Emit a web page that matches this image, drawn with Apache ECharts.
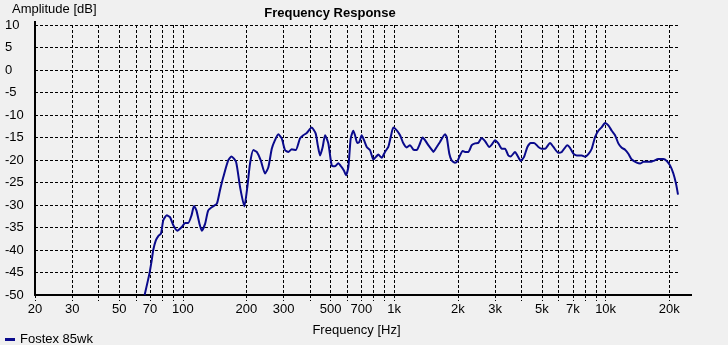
<!DOCTYPE html>
<html>
<head>
<meta charset="utf-8">
<script src="https://cdn.jsdelivr.net/npm/echarts@6.0.0/dist/echarts.min.js"></script>
<style>
  html, body { margin: 0; padding: 0; background: #f0f0f0; }
  #chart { width: 728px; height: 345px; }
</style>
</head>
<body>
<div id="chart"></div>
<script>
// Measured response of the Fostex 85wk driver (frequency in Hz, level in dB)
const freqHz = [66, 69.5, 71.3, 72.5, 74.5, 76.6, 78.9, 80.9, 84, 87, 90.2, 94.2, 98.9, 102.5, 106, 110, 113, 116, 120, 123, 127.5, 132, 139, 145, 150, 155.5, 164, 170, 178.6, 186.6, 195.5, 202, 208, 215.6, 223.8, 233.8, 245, 254, 263.6, 273, 283, 293.8, 304.6, 315.8, 327.6, 342, 358.6, 371.6, 385.8, 407, 425, 435, 446, 459, 471, 488, 506.6, 525, 544, 564.6, 579, 591.7, 607, 622.8, 640.8, 652.8, 669, 684, 702, 720, 741.6, 768.6, 797, 820, 841, 873, 905, 938, 963, 990.6, 1028, 1066, 1105, 1146, 1188, 1232, 1278, 1315, 1364, 1399, 1450, 1505, 1532, 1589, 1647, 1740, 1772, 1823, 1871, 1940, 1989, 2033, 2109, 2164, 2242, 2328, 2413, 2500, 2595, 2690, 2818, 2894, 3000, 3110, 3228, 3344, 3467, 3558, 3730, 3825, 3970, 4114, 4266, 4426, 4588, 4808, 4990, 5172, 5462, 5662, 5978, 6204, 6592, 6788, 7038, 7302, 7712, 7994, 8286, 8598, 8914, 9238, 9588, 9940, 10304, 10692, 11084, 11488, 11922, 12360, 12812, 13296, 14040, 14556, 15088, 15658, 16230, 16824, 17758, 18756, 19464, 20176, 20914, 21540, 22000];
const levelDb = [-50, -45.3, -42.3, -40.0, -37.9, -36.9, -36.3, -33.4, -32.3, -32.7, -34.5, -35.7, -34.9, -34.0, -34.0, -32.3, -30.2, -31.2, -34.2, -35.7, -34.2, -31.2, -30.3, -29.7, -26.7, -23.8, -20.1, -19.2, -20.4, -26.0, -30.3, -26.0, -20.8, -17.8, -18.2, -20.1, -23.0, -21.6, -17.5, -15.6, -14.3, -15.2, -17.8, -18.2, -17.6, -17.8, -15.2, -14.5, -14.0, -12.8, -14.1, -16.7, -19.0, -17.1, -14.5, -16.3, -21.2, -21.4, -20.7, -21.6, -22.4, -23.4, -21.6, -15.2, -13.5, -14.5, -16.2, -16.0, -14.5, -15.6, -17.1, -17.8, -19.9, -19.3, -18.8, -19.5, -18.2, -17.1, -14.9, -12.8, -13.4, -14.5, -16.3, -17.2, -16.7, -17.7, -17.8, -16.7, -15.0, -15.6, -16.7, -17.7, -18.2, -17.1, -16.0, -14.3, -14.9, -18.6, -20.1, -20.6, -20.3, -19.3, -18.0, -18.2, -18.2, -16.7, -16.3, -16.2, -15.1, -15.8, -17.1, -16.6, -15.6, -16.3, -17.5, -17.5, -19.0, -19.2, -18.2, -19.0, -20.2, -19.3, -17.1, -16.2, -16.2, -17.1, -17.5, -17.5, -16.2, -17.1, -18.4, -18.2, -16.7, -17.3, -18.6, -19.0, -19.0, -19.3, -18.7, -17.5, -14.9, -13.5, -12.7, -11.8, -12.3, -13.5, -14.5, -16.3, -17.3, -17.7, -18.6, -19.9, -20.6, -20.8, -20.4, -20.4, -20.4, -20.2, -19.8, -19.8, -20.2, -21.2, -23.0, -25.3, -27.7];

// Frequency axis: grid lines on every 1-2-3..9 step, labels on a subset
const gridFreqs = [20, 30, 40, 50, 60, 70, 80, 90, 100, 200, 300, 400, 500, 600, 700, 800, 900,
  1000, 2000, 3000, 4000, 5000, 6000, 7000, 8000, 9000, 10000, 20000];
const labelFreqs = [20, 30, 50, 70, 100, 200, 300, 500, 700, 1000, 2000, 3000, 5000, 7000, 10000, 20000];
const freqMin = 20;
const freqMax = 22000;
const seriesName = 'Fostex 85wk';

const FONT = 'Liberation Sans';
const dash = [3, 2];
const log10 = Math.log10;

function freqLabel(v) {
  const f = Math.round(Math.pow(10, v));
  return f >= 1000 ? (f / 1000) + 'k' : String(f);
}

const chart = echarts.init(document.getElementById('chart'), null, { renderer: 'canvas' });

chart.setOption({
  backgroundColor: '#f0f0f0',
  animation: false,
  textStyle: { fontFamily: FONT },
  title: {
    text: 'Frequency Response',
    left: 325,
    top: 2,
    textAlign: 'center',
    textStyle: { fontFamily: FONT, fontSize: 13, fontWeight: 'bold', color: '#000' }
  },
  legend: {
    data: [seriesName],
    left: 0,
    top: 333,
    padding: [0, 5],
    icon: 'rect',
    itemWidth: 10,
    itemHeight: 3,
    textStyle: { fontFamily: FONT, fontSize: 13, color: '#000' }
  },
  grid: { left: 35, right: 50, top: 25, bottom: 50 },
  xAxis: {
    type: 'value',
    min: log10(freqMin),
    max: log10(freqMax),
    name: 'Frequency [Hz]',
    nameLocation: 'middle',
    nameGap: 29,
    nameTextStyle: { fontFamily: FONT, fontSize: 13, color: '#000' },
    axisLine: { show: true, onZero: false, lineStyle: { color: '#000', width: 2 } },
    axisTick: {
      show: true,
      length: 6,
      customValues: gridFreqs.map(log10),
      lineStyle: { color: '#000', width: 1, type: dash }
    },
    axisLabel: {
      customValues: labelFreqs.map(log10),
      formatter: freqLabel,
      margin: 8,
      fontFamily: FONT,
      fontSize: 13,
      color: '#000'
    },
    splitLine: { show: true, lineStyle: { color: '#000', width: 1, type: dash } }
  },
  yAxis: {
    type: 'value',
    min: -50,
    max: 10,
    interval: 5,
    axisLine: { show: true, onZero: false, lineStyle: { color: '#000', width: 2 } },
    axisTick: { show: false },
    axisLabel: { align: 'left', margin: 30, fontFamily: FONT, fontSize: 13, color: '#000' },
    splitLine: { show: true, lineStyle: { color: '#000', width: 1, type: dash } }
  },
  graphic: [
    {
      type: 'text',
      left: 12,
      top: 3,
      style: { text: 'Amplitude [dB]', font: '13px "Liberation Sans"', fill: '#000' }
    },
    {
      type: 'line',
      shape: { x1: 678, y1: 295, x2: 692, y2: 295 },
      style: { stroke: '#000', lineWidth: 2 }
    },
    {
      type: 'line',
      shape: { x1: 35, y1: 21, x2: 35, y2: 25 },
      style: { stroke: '#000', lineWidth: 2 }
    }
  ],
  series: [{
    name: seriesName,
    type: 'line',
    data: freqHz.map((f, i) => [log10(f), levelDb[i]]),
    showSymbol: false,
    smooth: 0.2,
    clip: true,
    lineStyle: { color: '#0a0a8c', width: 2 },
    itemStyle: { color: '#0a0a8c' },
    z: 5
  }]
});
</script>
</body>
</html>
